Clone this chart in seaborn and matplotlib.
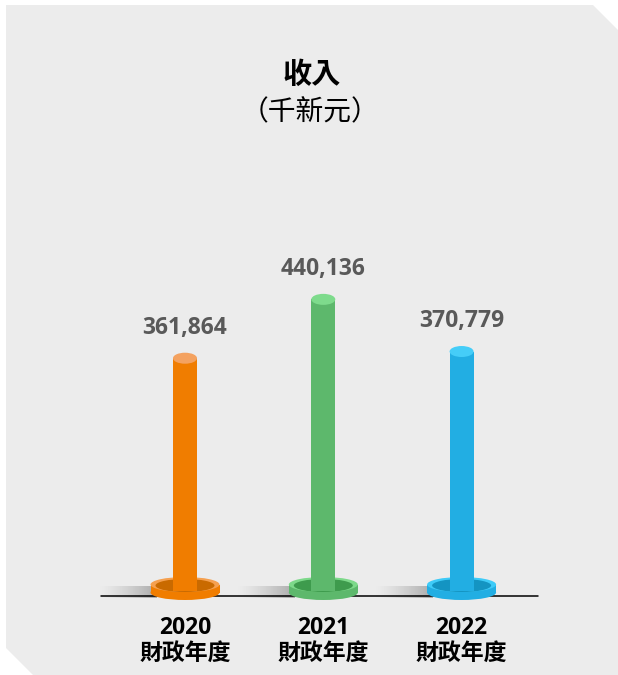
import numpy as np
import pandas as pd
import matplotlib
matplotlib.use("Agg")
import matplotlib.pyplot as plt
from matplotlib.patches import Ellipse, Rectangle, Polygon
import seaborn as sns

# ---- data ----
years = ["2020", "2021", "2022"]
values = [361864, 440136, 370779]
year_suffix = "財政年度"
title = "收入"
subtitle = "（千新元）"
bar_colors = ["#F07D00", "#5DB86C", "#22AEE3"]
cap_colors = ["#F4A260", "#7EDB8C", "#45CDF8"]
rim_colors = ["#F5A04F", "#7DD98A", "#3ECBF8"]
hole_colors = ["#C96A00", "#3E9B4D", "#1494C2"]

sns.set_theme(style="white")
plt.rcParams["font.family"] = ["Open Sans", "Noto Sans CJK TC", "DejaVu Sans"]

W, H = 618, 675
fig = plt.figure(figsize=(W / 100, H / 100), dpi=100)
fig.patch.set_facecolor("white")

def fx(p):
    return p / W

def fy(p):
    return 1 - p / H

# panel background with cut corners
panel = Polygon([(fx(6), fy(5)), (fx(593), fy(5)), (fx(618), fy(30)), (fx(618), fy(675)),
                 (fx(33), fy(675)), (fx(6), fy(648))], closed=True,
                transform=fig.transFigure, facecolor="#ECECEC", edgecolor="none", zorder=-10)
fig.patches.append(panel)

# pixel -> data mapping
X0PX, XSTEP = 185.0, 138.3
Y0PX, YSCALE = 630.3, 7.519e-4   # y_px = Y0PX - YSCALE * value
AX_BOTTOM_PX = 591.0

def ydat(p):
    return (Y0PX - p) / YSCALE

def xdat(p):
    return (p - X0PX) / XSTEP

ax = fig.add_axes([0, (H - AX_BOTTOM_PX) / H, 1, AX_BOTTOM_PX / H])
ax.set_zorder(5)
ax.set_facecolor("none")
ax.patch.set_alpha(0)

df = pd.DataFrame({"year": years, "value": values})
bar_w = 24 / XSTEP
sns.barplot(data=df, x="year", y="value", hue="year", palette=bar_colors,
            width=bar_w, saturation=1, legend=False, ax=ax, zorder=5,
            linewidth=0, edgecolor="none")

ax.set_xlim(xdat(0), xdat(W))
ax.set_ylim(ydat(AX_BOTTOM_PX), ydat(0))
ax.axis("off")

pxu = 1 / YSCALE  # data units per vertical pixel

# baseline
ax.plot([xdat(101), xdat(538)], [ydat(595.5), ydat(595.5)], color="black", lw=1.1,
        clip_on=False, zorder=2)

for i, v in enumerate(values):
    # top cap
    ax.add_patch(Ellipse((i, v), bar_w, 11 * pxu, facecolor=cap_colors[i],
                         edgecolor="none", zorder=6))
    # shadow gradient left of ring
    ring_left_px = X0PX + i * XSTEP - 34.5
    grad = np.zeros((2, 100, 4))
    grad[..., :3] = 0.55
    grad[..., 3] = np.linspace(0.0, 0.75, 100)[None, :] ** 1.3
    ax.imshow(grad, extent=(xdat(ring_left_px - 52), xdat(ring_left_px + 6),
                            ydat(598), ydat(586)),
              aspect="auto", clip_on=False, zorder=1, interpolation="bilinear")
    # ring: bottom band
    ow = 69 / XSTEP
    ax.add_patch(Ellipse((i, ydat(592.5)), ow, 15 * pxu, facecolor=bar_colors[i],
                         edgecolor="none", clip_on=False, zorder=3))
    ax.add_patch(Rectangle((i - ow / 2, ydat(592.5)), ow, 8 * pxu, facecolor=bar_colors[i],
                           edgecolor="none", clip_on=False, zorder=3))
    # ring top surface
    ax.add_patch(Ellipse((i, ydat(584.5)), ow, 15 * pxu, facecolor=rim_colors[i],
                         edgecolor="none", clip_on=False, zorder=4))
    # inner hole
    ax.add_patch(Ellipse((i, ydat(585.5)), 59 / XSTEP, 13 * pxu, facecolor=hole_colors[i],
                         edgecolor="none", clip_on=False, zorder=4))
    # value label
    ax.annotate(f"{v:,}", (i, v), xytext=(0, 13), textcoords="offset points",
                ha="center", va="bottom", fontsize=16.5, fontweight="bold",
                color="#595959", family=["Open Sans", "DejaVu Sans"], zorder=7)
    # category labels
    ax.text(i, ydat(628), years[i], ha="center", va="center", fontsize=16.5,
            fontweight="bold", color="black", family=["Open Sans", "DejaVu Sans"],
            clip_on=False)
    ax.text(i, ydat(653), year_suffix, ha="center", va="center", fontsize=16.5,
            fontweight="bold", color="black", family=["Noto Sans CJK TC", "DejaVu Sans"],
            clip_on=False)

# set limits again (imshow may alter them)
ax.set_xlim(xdat(0), xdat(W))
ax.set_ylim(ydat(AX_BOTTOM_PX), ydat(0))

fig.text(fx(312), fy(74), title, ha="center", va="center", fontsize=21,
         fontweight="bold", color="black", family=["Noto Sans CJK TC", "DejaVu Sans"])
fig.text(fx(310), fy(112), subtitle, ha="center", va="center", fontsize=20,
         color="black", family=["Noto Sans CJK TC", "DejaVu Sans"])

fig.savefig("out.png", dpi=100, facecolor="white")
